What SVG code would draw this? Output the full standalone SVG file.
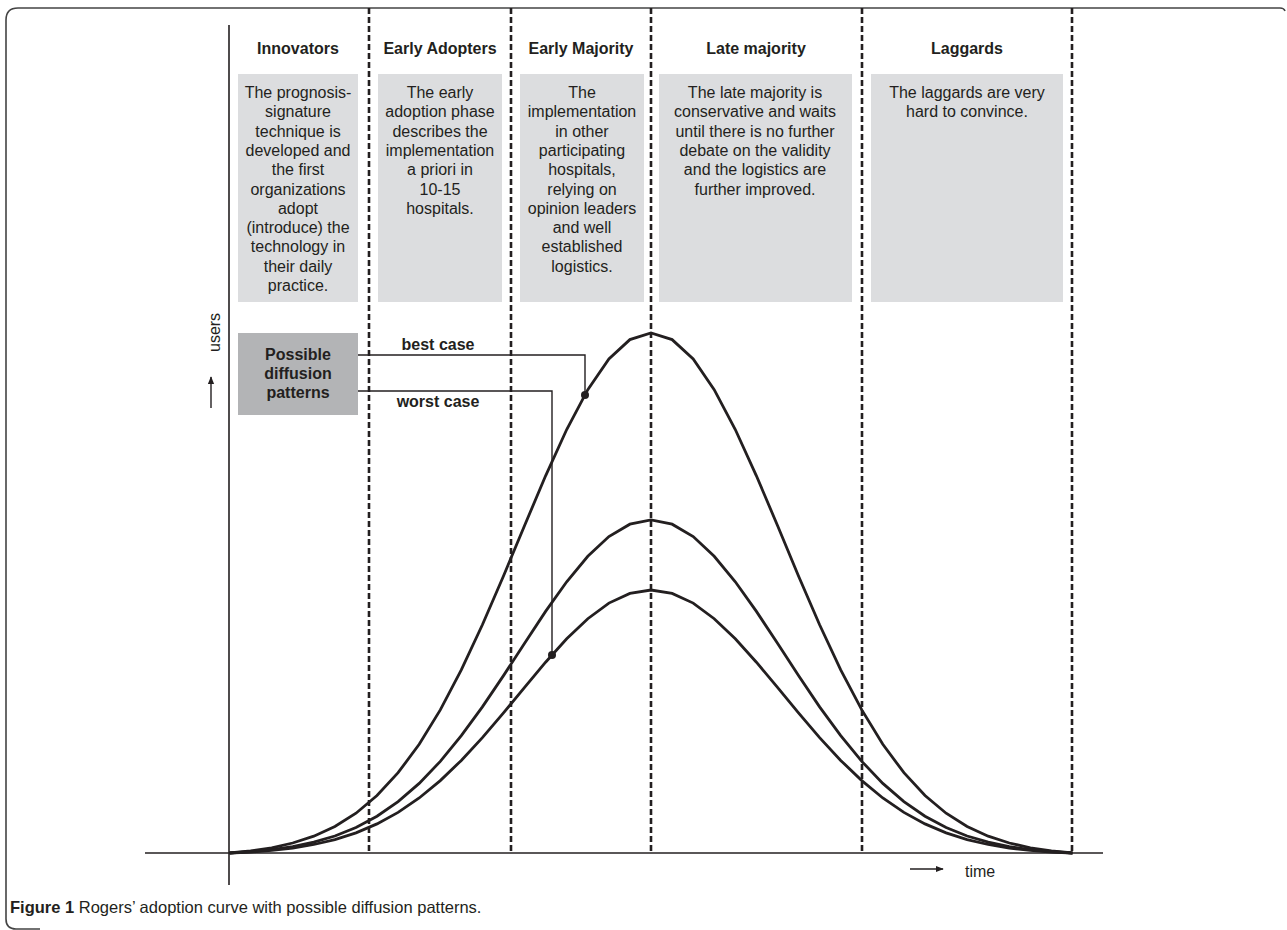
<svg xmlns="http://www.w3.org/2000/svg" width="1287" height="930" viewBox="0 0 1287 930">
<style>
text{font-family:"Liberation Sans",Arial,sans-serif;fill:#231f20}
.hd{font-size:16px;font-weight:bold;text-anchor:middle}
.bt{font-size:16px;text-anchor:middle}
.box{fill:#dcdddf}
.dash{stroke:#231f20;stroke-width:2.6;stroke-dasharray:6 3;fill:none}
.axis{stroke:#231f20;stroke-width:1.6;fill:none}
.curve{stroke:#231f20;stroke-width:2.8;fill:none;stroke-linejoin:miter}
.conn{stroke:#231f20;stroke-width:1.4;fill:none}
</style>
<defs>
<marker id="ah" viewBox="0 0 10 10" refX="9" refY="5" markerWidth="8" markerHeight="8" markerUnits="userSpaceOnUse" orient="auto">
<path d="M0,1 L10,5 L0,9 z" fill="#231f20"/>
</marker>
</defs>
<rect width="1287" height="930" fill="#fff"/>
<path d="M40,929 H16 Q6,929 6,919 V20 Q6,8 18,8 H1280 Q1284,8 1285,11" fill="none" stroke="#444" stroke-width="1.6"/>

<g id="phases">
<line class="dash" x1="369" y1="8" x2="369" y2="853"/>
<line class="dash" x1="511" y1="8" x2="511" y2="853"/>
<line class="dash" x1="651" y1="8" x2="651" y2="853"/>
<line class="dash" x1="862" y1="8" x2="862" y2="853"/>
<line class="dash" x1="1072" y1="8" x2="1072" y2="853"/>
</g>

<g id="innovators">
<text class="hd" x="298" y="54">Innovators</text>
<rect class="box" x="238" y="74" width="120" height="228"/>
<text class="bt" x="298" y="98">
<tspan x="298" dy="0">The prognosis-</tspan><tspan x="298" dy="19.3">signature</tspan><tspan x="298" dy="19.3">technique is</tspan><tspan x="298" dy="19.3">developed and</tspan><tspan x="298" dy="19.3">the first</tspan><tspan x="298" dy="19.3">organizations</tspan><tspan x="298" dy="19.3">adopt</tspan><tspan x="298" dy="19.3">(introduce) the</tspan><tspan x="298" dy="19.3">technology in</tspan><tspan x="298" dy="19.3">their daily</tspan><tspan x="298" dy="19.3">practice.</tspan>
</text>
</g>

<g id="early-adopters">
<text class="hd" x="440" y="54">Early Adopters</text>
<rect class="box" x="378" y="74" width="124" height="228"/>
<text class="bt" x="440" y="98">
<tspan x="440" dy="0">The early</tspan><tspan x="440" dy="19.3">adoption phase</tspan><tspan x="440" dy="19.3">describes the</tspan><tspan x="440" dy="19.3">implementation</tspan><tspan x="440" dy="19.3">a priori in</tspan><tspan x="440" dy="19.3">10-15</tspan><tspan x="440" dy="19.3">hospitals.</tspan>
</text>
</g>

<g id="early-majority">
<text class="hd" x="581" y="54">Early Majority</text>
<rect class="box" x="520" y="74" width="124" height="228"/>
<text class="bt" x="582" y="98">
<tspan x="582" dy="0">The</tspan><tspan x="582" dy="19.3">implementation</tspan><tspan x="582" dy="19.3">in other</tspan><tspan x="582" dy="19.3">participating</tspan><tspan x="582" dy="19.3">hospitals,</tspan><tspan x="582" dy="19.3">relying on</tspan><tspan x="582" dy="19.3">opinion leaders</tspan><tspan x="582" dy="19.3">and well</tspan><tspan x="582" dy="19.3">established</tspan><tspan x="582" dy="19.3">logistics.</tspan>
</text>
</g>

<g id="late-majority">
<text class="hd" x="756" y="54">Late majority</text>
<rect class="box" x="659" y="74" width="193" height="228"/>
<text class="bt" x="755" y="98">
<tspan x="755" dy="0">The late majority is</tspan><tspan x="755" dy="19.3">conservative and waits</tspan><tspan x="755" dy="19.3">until there is no further</tspan><tspan x="755" dy="19.3">debate on the validity</tspan><tspan x="755" dy="19.3">and the logistics are</tspan><tspan x="755" dy="19.3">further improved.</tspan>
</text>
</g>

<g id="laggards">
<text class="hd" x="967" y="54">Laggards</text>
<rect class="box" x="871" y="74" width="192" height="228"/>
<text class="bt" x="967" y="98">
<tspan x="967" dy="0">The laggards are very</tspan><tspan x="967" dy="19.3">hard to convince.</tspan>
</text>
</g>

<g id="axes">
<line class="axis" x1="229" y1="25" x2="229" y2="885"/>
<line class="axis" x1="145" y1="853" x2="1103" y2="853"/>
<text x="220" y="352" font-size="16" transform="rotate(-90 220 352)">users</text>
<line x1="211" y1="408" x2="211" y2="377" stroke="#231f20" stroke-width="1.4" marker-end="url(#ah)"/>
<line x1="910" y1="869" x2="943" y2="869" stroke="#231f20" stroke-width="1.4" marker-end="url(#ah)"/>
<text x="965" y="877" font-size="16">time</text>
</g>

<g id="curves">
<polyline class="curve" points="229.5,853 250.6,850.9 271.7,847.8 292.7,843.0 313.8,836.2 334.9,826.5 356.0,813.2 377.0,795.5 398.1,772.7 419.2,744.3 440.3,709.9 461.3,669.9 482.4,624.8 503.5,576.0 524.6,525.5 545.6,475.8 566.7,429.5 587.8,389.7 608.9,359.0 629.9,339.6 651,333 672.1,339.6 693.2,359.0 714.2,389.7 735.3,429.5 756.4,475.8 777.5,525.5 798.5,576.0 819.6,624.8 840.7,669.9 861.8,709.9 882.8,744.3 903.9,772.7 925.0,795.5 946.1,813.2 967.1,826.5 988.2,836.2 1009.3,843.0 1030.4,847.8 1051.4,850.9 1072.5,853"/>
<polyline class="curve" points="229.5,853 250.6,851.7 271.7,849.7 292.7,846.6 313.8,842.2 334.9,836.0 356.0,827.5 377.0,816.2 398.1,801.6 419.2,783.4 440.3,761.4 461.3,735.7 482.4,706.9 503.5,675.6 524.6,643.3 545.6,611.4 566.7,581.8 587.8,556.3 608.9,536.6 629.9,524.2 651,520 672.1,524.2 693.2,536.6 714.2,556.3 735.3,581.8 756.4,611.4 777.5,643.3 798.5,675.6 819.6,706.9 840.7,735.7 861.8,761.4 882.8,783.4 903.9,801.6 925.0,816.2 946.1,827.5 967.1,836.0 988.2,842.2 1009.3,846.6 1030.4,849.7 1051.4,851.7 1072.5,853"/>
<polyline class="curve" points="229.5,853 250.6,852.0 271.7,850.4 292.7,848.0 313.8,844.5 334.9,839.6 356.0,832.9 377.0,823.9 398.1,812.4 419.2,798.0 440.3,780.6 461.3,760.4 482.4,737.6 503.5,712.9 524.6,687.4 545.6,662.2 566.7,638.8 587.8,618.7 608.9,603.1 629.9,593.4 651,590 672.1,593.4 693.2,603.1 714.2,618.7 735.3,638.8 756.4,662.2 777.5,687.4 798.5,712.9 819.6,737.6 840.7,760.4 861.8,780.6 882.8,798.0 903.9,812.4 925.0,823.9 946.1,832.9 967.1,839.6 988.2,844.5 1009.3,848.0 1030.4,850.4 1051.4,852.0 1072.5,853"/>
</g>

<g id="legend">
<rect x="238" y="333" width="120" height="82" fill="#b3b4b6"/>
<text class="hd" x="298" y="360">Possible</text>
<text class="hd" x="298" y="379">diffusion</text>
<text class="hd" x="298" y="398">patterns</text>
</g>

<g id="connectors">
<polyline class="conn" points="358,355 585,355 585,395"/>
<circle cx="585" cy="395" r="4" fill="#231f20"/>
<text class="hd" x="438" y="350">best case</text>
<polyline class="conn" points="358,391 552,391 552,655"/>
<circle cx="552" cy="655" r="4" fill="#231f20"/>
<text class="hd" x="438" y="407">worst case</text>
</g>

<g id="caption">
<text x="10" y="913" font-size="16.5"><tspan font-weight="bold">Figure 1</tspan> Rogers’ adoption curve with possible diffusion patterns.</text>
</g>
</svg>
